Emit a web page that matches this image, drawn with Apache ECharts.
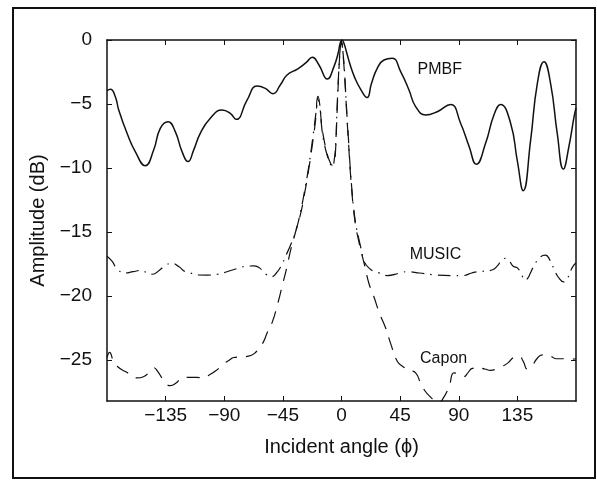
<!DOCTYPE html>
<html>
<head>
<meta charset="utf-8">
<script src="https://cdn.jsdelivr.net/npm/echarts@6/dist/echarts.min.js"></script>
<style>
  html, body { margin: 0; padding: 0; background: #fff; }
  #chart { width: 597px; height: 481px; }
</style>
</head>
<body>
<div id="chart"></div>
<script>
// ticks
const xTicks = [-135, -90, -45, 0, 45, 90, 135]
const yTicks = [0, -5, -10, -15, -20, -25]

// PMBF (solid)
const pmbfAngle = [-180, -177.4, -173.6, -171, -164.6, -158.3, -150.6, -144.2, -139.1, -133.2, -127.6, -122.4, -117.8, -113.5, -108.4, -100.7, -91.7, -85.4, -80.8, -72.5, -64.9, -58.5, -52.6, -47, -41.8, -33.5, -27, -22.4, -17.3, -10.9, -5.8, -2.5, -1, 0.4, 2, 4, 6.7, 10, 14.4, 19.6, 23, 27.5, 32.6, 39, 45.4, 51.8, 56.9, 64.6, 73.5, 83.7, 91.4, 97.9, 103.5, 110.6, 117, 122.1, 129.8, 134.9, 139.5, 145.2, 150.3, 155.4, 160.5, 165.6, 170.3, 174.6, 178.5, 180]
const pmbfDb = [-3.96, -3.85, -4.43, -5.47, -7.29, -8.72, -9.82, -8.6, -6.9, -6.38, -7.16, -8.72, -9.5, -8.6, -7.29, -6.12, -5.47, -5.73, -6.2, -4.69, -3.6, -3.78, -4.2, -3.52, -2.73, -2.25, -1.75, -1.35, -1.95, -3.05, -2.08, -1.0, -0.25, 0, -0.3, -1.0, -1.95, -2.9, -3.8, -4.5, -3.4, -2.2, -1.56, -1.43, -2.47, -3.9, -5.2, -5.86, -5.6, -5.03, -6.5, -8.3, -9.71, -8.07, -5.86, -5.03, -6.5, -9.4, -11.77, -7.8, -3.4, -1.69, -3.4, -7.3, -10.08, -8.3, -6.0, -5.3]

// MUSIC (dash-dot)
const musicAngle = [-180, -176, -172, -166, -160, -154, -149, -145, -140, -135, -130, -125, -120, -116, -110, -103, -95, -88, -80, -72, -67, -63, -58, -54, -50, -46, -43, -39, -35, -31, -28, -25, -22, -19.5, -18, -16.5, -15, -13, -11, -9, -7, -5.5, -4.5, -3.5, -2, -1, 0, 1, 2.5, 4.2, 5.5, 6.7, 8, 9.3, 11, 13, 15, 17, 18.5, 21, 25, 29, 35, 45, 50, 60, 73, 85, 93, 100, 104, 110, 116, 120, 123, 126, 129, 132, 135, 138, 141, 143, 145, 148, 152, 156.5, 160, 164, 167, 170.5, 173, 177, 180]
const musicDb = [-16.9, -17.3, -17.9, -18.2, -18.1, -18.0, -18.2, -18.3, -18.0, -17.6, -17.45, -17.7, -18.1, -18.2, -18.35, -18.36, -18.3, -18.1, -17.85, -17.66, -17.65, -17.8, -18.3, -18.5, -18.2, -17.6, -16.9, -16.0, -14.9, -13.2, -11.6, -9.8, -7.6, -5.6, -4.4, -5.2, -7.0, -8.2, -9.0, -9.6, -9.9, -9.3, -8.2, -5.6, -2.2, -0.7, -0.1, -0.8, -2.8, -5.9, -8.0, -10.0, -11.7, -13.1, -14.4, -15.4, -16.3, -17.2, -17.5, -17.8, -18.1, -18.2, -18.4, -18.2, -18.1, -18.2, -18.36, -18.4, -18.4, -18.2, -18.1, -18.05, -17.95, -17.6, -17.2, -17.05, -17.3, -17.7, -17.8, -18.3, -18.75, -18.6, -18.2, -17.6, -17.0, -16.8, -17.2, -18.1, -18.6, -18.9, -18.7, -17.8, -17.4]

// Capon (dashed)
const caponAngle = [-180, -178, -175, -172, -166, -160, -157, -152, -147, -144, -141, -137, -131.4, -127, -122.4, -116, -111, -106, -102, -96, -90.5, -86, -82.8, -77, -71.3, -67, -63.6, -60, -57.2, -53, -49.5, -45, -41.8, -39, -35, -31, -28, -25, -22, -19.5, -18.5, -17, -15, -13, -11, -9, -7, -5.5, -4.5, -3.5, -2, -1, 0, 1, 2.5, 4.2, 5.5, 6.7, 8, 9.3, 11, 13, 15, 18, 21, 25, 29, 33.9, 38, 42.8, 47, 52, 56.9, 60.7, 64, 68.4, 72, 75, 78, 82.5, 86.3, 90, 94, 97, 100.4, 105, 110, 114.4, 119, 123.4, 128, 132, 136.2, 139.5, 142.6, 146, 150, 154.1, 157, 160.5, 165, 170.8, 175, 180]
const caponDb = [-24.8, -24.4, -25.1, -25.5, -25.9, -26.2, -26.4, -26.3, -25.9, -25.6, -25.9, -26.5, -27.0, -26.8, -26.4, -26.35, -26.35, -26.4, -26.2, -25.8, -25.3, -25.0, -24.8, -24.75, -24.7, -24.5, -24.1, -23.6, -22.9, -22.0, -20.8, -19.0, -17.7, -16.4, -14.9, -13.4, -11.8, -10.0, -7.9, -5.9, -4.6, -5.0, -6.8, -8.0, -8.9, -9.5, -9.8, -9.5, -8.5, -5.9, -2.4, -0.8, -0.1, -0.9, -3.0, -6.1, -8.2, -10.2, -11.9, -13.3, -14.6, -15.6, -16.5, -17.7, -19.0, -20.1, -21.3, -22.5, -23.8, -25.1, -25.5, -25.8, -26.0, -26.8, -27.4, -27.9, -28.2, -28.3, -28.0, -27.1, -26.0, -26.1, -26.3, -26.0, -25.65, -25.6, -25.7, -25.8, -25.7, -25.5, -25.2, -24.8, -24.7, -25.1, -25.7, -25.5, -24.9, -24.6, -24.6, -24.7, -24.9, -24.9, -24.95, -24.9]

// in-plot labels
const annoText = ['PMBF', 'MUSIC', 'Capon']
const annoAngle = [58.4, 52.3, 60.3]
const annoDb = [-2.35, -16.8, -24.9]

const font = "'Liberation Sans', Arial, sans-serif"
const pair = (xs, ys) => xs.map((x, i) => [x, ys[i]])
const fmt = v => String(v).replace('-', '\u2212')

const lineSeries = (name, xs, ys, type, width) => ({
  name,
  type: 'line',
  data: pair(xs, ys),
  smooth: 0.5,
  showSymbol: false,
  symbol: 'none',
  clip: true,
  lineStyle: { color: '#111', width, type }
})

const chart = echarts.init(document.getElementById('chart'), null, { renderer: 'canvas' })

const option = {
  animation: false,
  backgroundColor: '#fff',
  textStyle: { fontFamily: font, color: '#111' },
  grid: { left: 107, right: 21, top: 40, bottom: 80 },
  xAxis: [
    {
      type: 'value', min: -180, max: 180, position: 'bottom',
      name: 'Incident angle (\u03d5)', nameLocation: 'middle', nameGap: 36,
      nameTextStyle: { fontSize: 20, color: '#111', fontFamily: font },
      axisLine: { show: true, onZero: false, lineStyle: { color: '#111', width: 1.5 } },
      axisTick: { show: true, inside: true, length: 5, customValues: xTicks, lineStyle: { color: '#111', width: 1 } },
      axisLabel: { customValues: xTicks, formatter: fmt, fontSize: 19, color: '#111', margin: 5, fontFamily: font },
      splitLine: { show: false }
    },
    {
      type: 'value', min: -180, max: 180, position: 'top',
      axisLine: { show: true, onZero: false, lineStyle: { color: '#111', width: 1.5 } },
      axisTick: { show: true, inside: true, length: 5, customValues: xTicks, lineStyle: { color: '#111', width: 1 } },
      axisLabel: { show: false },
      splitLine: { show: false }
    }
  ],
  yAxis: [
    {
      type: 'value', min: -28.2, max: 0, position: 'left',
      name: 'Amplitude (dB)', nameLocation: 'middle', nameGap: 52, nameRotate: 90,
      nameTextStyle: { fontSize: 20, color: '#111', fontFamily: font },
      axisLine: { show: true, onZero: false, lineStyle: { color: '#111', width: 1.5 } },
      axisTick: { show: true, inside: true, length: 5, customValues: yTicks, lineStyle: { color: '#111', width: 1 } },
      axisLabel: { customValues: yTicks, formatter: fmt, fontSize: 19, color: '#111', margin: 15, fontFamily: font },
      splitLine: { show: false }
    },
    {
      type: 'value', min: -28.2, max: 0, position: 'right',
      axisLine: { show: true, onZero: false, lineStyle: { color: '#111', width: 1.5 } },
      axisTick: { show: true, inside: true, length: 5, customValues: yTicks, lineStyle: { color: '#111', width: 1 } },
      axisLabel: { show: false },
      splitLine: { show: false }
    }
  ],
  series: [
    lineSeries('PMBF', pmbfAngle, pmbfDb, 'solid', 1.5),
    lineSeries('MUSIC', musicAngle, musicDb, [13, 6, 1.5, 6], 1.2),
    lineSeries('Capon', caponAngle, caponDb, [13, 9], 1.2)
  ]
}

chart.setOption(option)

// frame round the whole figure + in-plot labels placed from data coordinates
const graphics = [{
  type: 'rect',
  shape: { x: 13, y: 8, width: 582, height: 470 },
  style: { fill: 'none', stroke: '#111', lineWidth: 2 },
  silent: true
}]
annoText.forEach((t, i) => {
  const p = chart.convertToPixel({ gridIndex: 0 }, [annoAngle[i], annoDb[i]])
  graphics.push({
    type: 'text',
    x: p[0], y: p[1],
    style: { text: t, font: '16px ' + font, fill: '#111', textAlign: 'left', textVerticalAlign: 'middle' },
    silent: true
  })
})
chart.setOption({ graphic: graphics })
</script>
</body>
</html>
